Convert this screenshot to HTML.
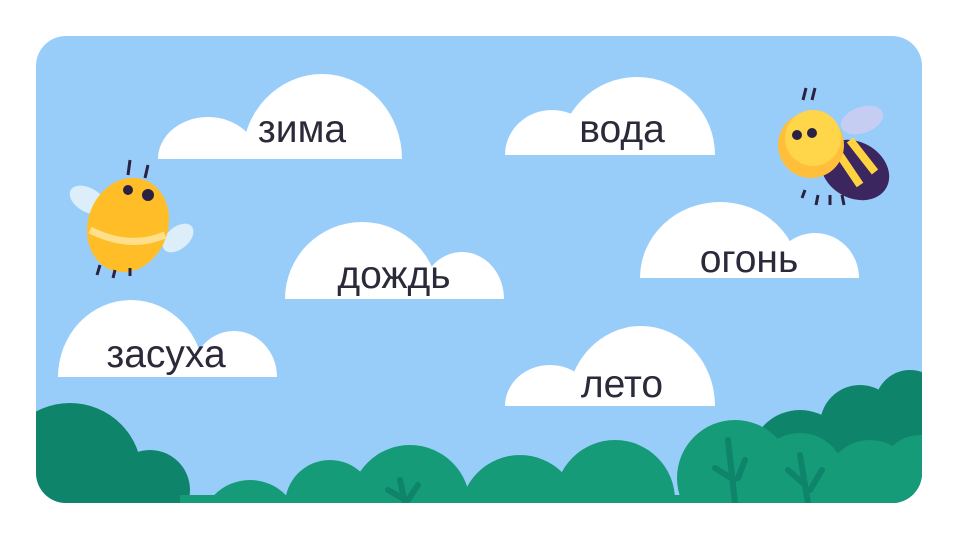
<!DOCTYPE html>
<html><head><meta charset="utf-8"><style>
html,body{margin:0;padding:0;background:#fff;width:960px;height:540px;overflow:hidden}
svg{display:block;position:absolute;left:0;top:0}
text{font-family:"Liberation Sans","DejaVu Sans",sans-serif;font-size:39px;fill:#2b2a3a;text-anchor:middle}
</style></head><body>
<svg width="960" height="540" viewBox="0 0 960 540">
<defs><clipPath id="p"><rect x="36" y="36" width="886" height="467" rx="30"/></clipPath></defs>
<rect x="36" y="36" width="886" height="467" rx="30" fill="#99cdf9"/>
<g clip-path="url(#p)">
<g fill="#0e846a">
<circle cx="70" cy="475" r="72"/><circle cx="150" cy="490" r="40"/>
<circle cx="800" cy="460" r="50"/><circle cx="860" cy="425" r="40"/><circle cx="910" cy="405" r="35"/><circle cx="880" cy="470" r="60"/>
<rect x="760" y="430" width="170" height="80"/>
</g>
<g fill="#169b79">
<circle cx="250" cy="530" r="50"/><circle cx="330" cy="505" r="45"/><circle cx="410" cy="505" r="60"/>
<circle cx="520" cy="515" r="60"/><circle cx="615" cy="500" r="60"/><circle cx="735" cy="478" r="58"/>
<circle cx="800" cy="478" r="45"/><circle cx="870" cy="485" r="45"/><circle cx="920" cy="475" r="40"/>
<rect x="180" y="495" width="760" height="20"/>
</g>
<g stroke="#0e846a" stroke-width="6" fill="none" stroke-linecap="round">
<path d="M728 440 L735 503 M715 468 L734 480 M745 460 L738 478"/>
<path d="M800 455 L808 503 M788 470 L805 485 M822 470 L810 490"/>
<path d="M400 480 L405 503 M388 490 L402 498 M418 485 L408 500"/>
</g>
</g>
<g fill="#fff">
<path d="M158 159 A50 42 0 0 1 258 159Z"/><path d="M242 159 A80 85 0 0 1 402 159Z"/>
<path d="M505 155 A47 45 0 0 1 599 155Z"/><path d="M559 155 A78 78 0 0 1 715 155Z"/>
<path d="M640 278 A80 76 0 0 1 800 278Z"/><path d="M771 278 A44 45 0 0 1 859 278Z"/>
<path d="M285 299 A77 77 0 0 1 439 299Z"/><path d="M420 299 A42 47 0 0 1 504 299Z"/>
<path d="M58 377 A73 77 0 0 1 204 377Z"/><path d="M191 377 A43 46 0 0 1 277 377Z"/>
<path d="M505 406 A45 41 0 0 1 595 406Z"/><path d="M567 406 A74 80 0 0 1 715 406Z"/>
</g>
<text x="302" y="142">зима</text>
<text x="622" y="142">вода</text>
<text x="749" y="272">огонь</text>
<text x="394" y="288">дождь</text>
<text x="166" y="367">засуха</text>
<text x="622" y="397">лето</text>
<g>
<ellipse cx="88" cy="200" rx="20" ry="12" fill="#dceefa" transform="rotate(30 88 200)"/>
<ellipse cx="178" cy="238" rx="18" ry="11" fill="#dceefa" transform="rotate(-40 178 238)"/>
<ellipse cx="128" cy="225" rx="40" ry="48" fill="#ffbe28" transform="rotate(20 128 225)"/>
<path d="M90 230 Q130 250 165 235" stroke="#ffe08a" stroke-width="7" fill="none"/>
<circle cx="148" cy="195" r="6" fill="#2b2243"/><circle cx="128" cy="190" r="5" fill="#2b2243"/>
<path d="M130 160 L128 175 M148 165 L145 178" stroke="#2b2243" stroke-width="3"/>
<path d="M100 265 l-3 10 M115 270 l-2 8 M130 268 l0 8" stroke="#2b2243" stroke-width="3"/>
</g>
<g>
<ellipse cx="862" cy="120" rx="22" ry="13" fill="#c5cdf2" transform="rotate(-20 862 120)"/>
<ellipse cx="855" cy="170" rx="36" ry="28" fill="#3b2660" transform="rotate(30 855 170)"/>
<path d="M835 148 L860 185 M850 140 L875 172" stroke="#ffd23f" stroke-width="8"/>
<circle cx="811" cy="145" r="33" fill="#ffbf3a"/>
<circle cx="813" cy="138" r="28" fill="#ffd54a"/>
<circle cx="797" cy="135" r="5" fill="#2b2243"/><circle cx="812" cy="133" r="5" fill="#2b2243"/>
<path d="M803 100 L806 88 M812 100 L815 88" stroke="#2b2243" stroke-width="3"/>
<path d="M805 190 l-3 8 M818 195 l-2 10 M830 195 l0 10 M842 195 l2 10" stroke="#2b2243" stroke-width="3"/>
</g>
</svg>
</body></html>
